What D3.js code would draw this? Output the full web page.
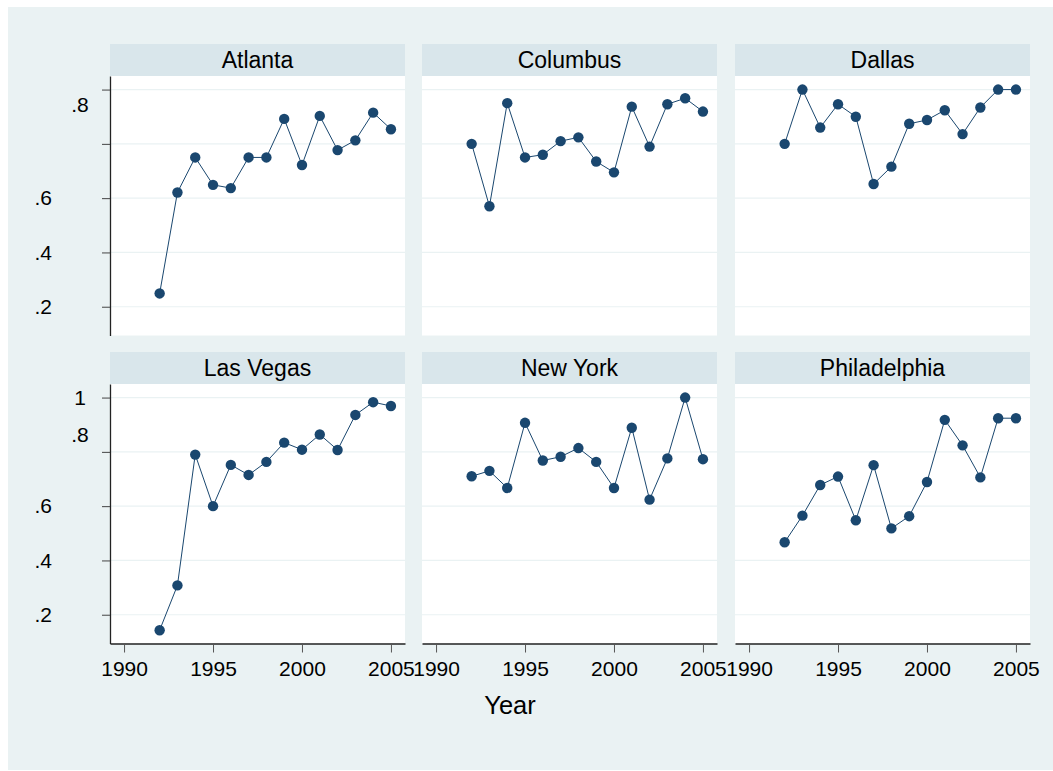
<html>
    <head>
        <meta charset="utf-8">
        <title>Facets by city</title>
        <style type="text/css">
            body { margin: 0; background: #fff; }
            text { font-family: "Liberation Sans", Arial, sans-serif; fill: #000; }
        </style>
        <script src="https://d3js.org/d3.v7.min.js"></script>
    </head>
    <body>
    	<svg width="1053" height="771"></svg>
    	<script>
        // values
        var cities = ["Atlanta", "Columbus", "Dallas", "Las Vegas", "New York", "Philadelphia"];
        var years = [1992, 1993, 1994, 1995, 1996, 1997, 1998, 1999, 2000, 2001, 2002, 2003, 2004, 2005];
        var atlanta      = [0.249, 0.621, 0.750, 0.649, 0.637, 0.750, 0.750, 0.892, 0.722, 0.903, 0.777, 0.813, 0.915, 0.854];
        var columbus     = [0.800, 0.570, 0.950, 0.750, 0.760, 0.810, 0.824, 0.735, 0.695, 0.937, 0.790, 0.946, 0.968, 0.919];
        var dallas       = [0.800, 1.000, 0.860, 0.946, 0.900, 0.652, 0.716, 0.874, 0.888, 0.924, 0.836, 0.934, 1.000, 1.000];
        var lasVegas     = [0.143, 0.308, 0.790, 0.600, 0.752, 0.715, 0.763, 0.834, 0.808, 0.864, 0.807, 0.936, 0.983, 0.969];
        var newYork      = [0.710, 0.730, 0.667, 0.907, 0.768, 0.782, 0.814, 0.763, 0.667, 0.889, 0.624, 0.776, 1.000, 0.773];
        var philadelphia = [0.467, 0.565, 0.678, 0.709, 0.548, 0.751, 0.518, 0.563, 0.689, 0.918, 0.824, 0.706, 0.924, 0.924];
        var series = [atlanta, columbus, dallas, lasVegas, newYork, philadelphia];

        var xTicks = [1990, 1995, 2000, 2005];
        var yGrid = [0.2, 0.4, 0.6, 0.8, 1];
        // y labels as they sit in the picture (the ".8" / "1" labels are shifted there)
        var yLabelsTop = [[0.2, ".2"], [0.4, ".4"], [0.6, ".6"], [0.946, ".8"]];
        var yLabelsBottom = [[0.2, ".2"], [0.4, ".4"], [0.6, ".6"], [0.862, ".8"], [1, "1"]];

        var svg = d3.select("svg"),
            colLeft = [110, 422, 735],
            rowTop = [44, 352],
            stripH = 32,
            panelW = 295,
            plotH = 259.5,
            navy = "#1a476f";

        svg.append("rect")
            .attr("x", 8).attr("y", 7)
            .attr("width", 1045).attr("height", 763)
            .attr("fill", "#eaf2f3");

        var xScale = d3.scaleLinear().domain([1989.21, 2005.79]).range([0, panelW]),
            yScale = d3.scaleLinear().domain([0.094, 1.05]).range([stripH + plotH, stripH]);

        var line = d3.line()
            .x((d, i) => xScale(years[i]))
            .y(d => yScale(d));

        cities.forEach(function(city, k) {
            var c = k % 3, r = Math.floor(k / 3);
            var g = svg.append("g").attr("transform", `translate(${colLeft[c]},${rowTop[r]})`);

            g.append("rect")
                .attr("width", panelW).attr("height", stripH)
                .attr("fill", "#d9e6eb");
            g.append("text")
                .text(city)
                .attr("x", panelW / 2)
                .attr("y", stripH / 2)
                .attr("dy", "0.35em")
                .attr("text-anchor", "middle")
                .style("font-size", "23px");

            g.append("rect")
                .attr("y", stripH)
                .attr("width", panelW).attr("height", plotH)
                .attr("fill", "#fff");

            g.append("g")
                .selectAll("line")
                .data(yGrid)
                .enter()
                .append("line")
                .attr("x1", 0).attr("x2", panelW)
                .attr("y1", d => yScale(d)).attr("y2", d => yScale(d))
                .attr("stroke", "#eaf2f3")
                .attr("stroke-width", 1.2);

            g.append("path")
                .datum(series[k])
                .attr("d", line)
                .attr("fill", "none")
                .attr("stroke", navy)
                .attr("stroke-width", 1);

            g.append("g")
                .selectAll("circle")
                .data(series[k])
                .enter()
                .append("circle")
                .attr("cx", (d, i) => xScale(years[i]))
                .attr("cy", d => yScale(d))
                .attr("r", 5.2)
                .attr("fill", navy);

            if (c === 0) {
                var ya = g.append("g")
                    .call(d3.axisLeft(yScale).tickValues(yGrid).tickFormat("").tickSize(8).tickSizeOuter(0));
                ya.select(".domain").attr("stroke", "#222").attr("stroke-width", 1.3);
                ya.selectAll(".tick line").attr("stroke", "#444");

                var labs = r === 0 ? yLabelsTop : yLabelsBottom;
                g.append("g")
                    .selectAll("text")
                    .data(labs)
                    .enter()
                    .append("text")
                    .text(d => d[1])
                    .attr("x", d => d[0] > 0.85 ? -30 : -58)
                    .attr("y", d => yScale(d[0]))
                    .attr("dy", "0.35em")
                    .attr("text-anchor", d => d[0] > 0.85 ? "middle" : "end")
                    .style("font-size", "21px");
            }

            if (r === 1) {
                var xa = g.append("g")
                    .attr("transform", `translate(0,${stripH + plotH})`)
                    .call(d3.axisBottom(xScale).tickValues(xTicks).tickFormat(d3.format("d"))
                        .tickSize(9).tickSizeOuter(0).tickPadding(9));
                xa.select(".domain").attr("stroke", "#222").attr("stroke-width", 1.3);
                xa.selectAll(".tick line").attr("stroke", "#555");
                xa.selectAll(".tick text")
                    .attr("fill", "#000")
                    .style("font-size", "21px")
                    .style("font-family", "'Liberation Sans', Arial, sans-serif");
            }
        });

        svg.append("text")
            .text("Year")
            .attr("x", 510)
            .attr("y", 705)
            .attr("dy", "0.35em")
            .attr("text-anchor", "middle")
            .style("font-size", "25.5px");
    	</script>
  </body>
</html>
